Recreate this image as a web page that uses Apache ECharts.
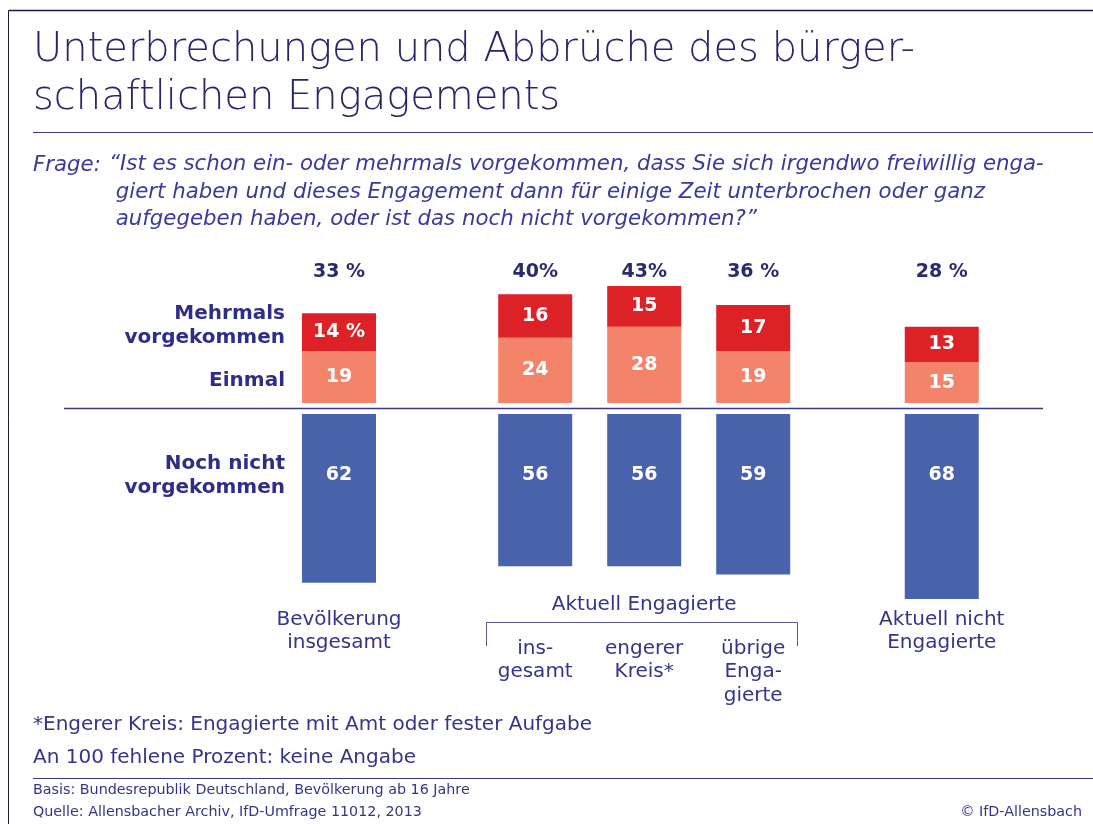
<!DOCTYPE html>
<html><head><meta charset="utf-8">
<script src="https://cdn.jsdelivr.net/npm/echarts@6/dist/echarts.min.js"></script>
<style>html,body{margin:0;padding:0;background:#fff}#c{width:1093px;height:824px}</style>
</head><body><div id="c"></div>
<script>
// ---- data ----
const categories = ['Bevölkerung insgesamt', 'Aktuell Engagierte: insgesamt', 'Aktuell Engagierte: engerer Kreis*', 'Aktuell Engagierte: übrige Engagierte', 'Aktuell nicht Engagierte'];
const catLabels = ['Bevölkerung\ninsgesamt', 'ins-\ngesamt', 'engerer\nKreis*', 'übrige\nEnga-\ngierte', 'Aktuell nicht\nEngagierte'];
const einmal = [19, 24, 28, 19, 15];
const mehrmals = [14, 16, 15, 17, 13];
const nochNicht = [62, 56, 56, 59, 68];
const totals = ['33 %', '40%', '43%', '36 %', '28 %'];
const seriesNames = ['Einmal', 'Mehrmals vorgekommen', 'Noch nicht vorgekommen'];

// ---- layout (slot positions along the x axis, not data) ----
const slots = [0, 1.8, 2.8, 3.8, 5.53];
const FONT = '"DejaVu Sans", Lato, sans-serif';
const NAVY = '#2f2e86';
const TXT = '#34348c';

// value first, slot second (so the value dimension is the stacked one)
const pairs = arr => arr.map((v, i) => [v, slots[i]]);

const chart = echarts.init(document.getElementById('c'), null, {renderer: 'canvas'});
const grids = [
  {left: 230, width: 752.1, top: 267, height: 136},
  {left: 230, width: 752.1, top: 414, height: 190.4}
];
const barLabel = {color: '#fff', fontWeight: 'bold', fontSize: 19, fontFamily: FONT};
const option = {
  animation: false,
  grid: grids,
  xAxis: [
    {type: 'value', gridIndex: 0, min: -1, max: 5.9, show: false},
    {type: 'value', gridIndex: 1, min: -1, max: 5.9, show: false}
  ],
  yAxis: [
    {type: 'value', gridIndex: 0, min: 0, max: 50, show: false},
    {type: 'value', gridIndex: 1, min: 0, max: 70, inverse: true, show: false}
  ],
  series: [
    {name: seriesNames[0], type: 'bar', xAxisIndex: 0, yAxisIndex: 0, stack: 'pos', barWidth: 74,
     dimensions: ['val', 'pos'], encode: {x: 'pos', y: 'val'},
     data: pairs(einmal), itemStyle: {color: '#f38469'},
     label: Object.assign({show: true, position: 'inside', formatter: p => String(p.value[0])}, barLabel)},
    {name: seriesNames[1], type: 'bar', xAxisIndex: 0, yAxisIndex: 0, stack: 'pos', barWidth: 74,
     dimensions: ['val', 'pos'], encode: {x: 'pos', y: 'val'},
     data: pairs(mehrmals), itemStyle: {color: '#dc2227'},
     label: Object.assign({show: true, position: 'inside',
             formatter: p => p.dataIndex === 0 ? p.value[0] + ' %' : String(p.value[0])}, barLabel)},
    {name: seriesNames[2], type: 'bar', xAxisIndex: 1, yAxisIndex: 1, barWidth: 74,
     dimensions: ['val', 'pos'], encode: {x: 'pos', y: 'val'},
     data: pairs(nochNicht), itemStyle: {color: '#4862ac'},
     label: Object.assign({show: true, position: ['50%', 61], align: 'center', verticalAlign: 'middle',
             formatter: p => String(p.value[0])}, barLabel)}
  ]
};
chart.setOption(option);

const px = i => chart.convertToPixel({xAxisIndex: 0, yAxisIndex: 0}, [slots[i], 0])[0];
const T = (text, x, y, o) => ({type: 'text', x, y, silent: true,
  style: Object.assign({text, fill: TXT, fontFamily: FONT, fontSize: 19, textAlign: 'left', textVerticalAlign: 'middle'}, o || {})});
const L = (x1, y1, x2, y2, c, w) => ({type: 'line', silent: true, shape: {x1, y1, x2, y2}, style: {stroke: c || '#3b3a7e', lineWidth: w || 1}});

const g = [];
// frame
g.push(L(8.5, 10.5, 1093, 10.5, '#1c1a44', 1.5));
g.push(L(8.5, 10.5, 8.5, 824, '#1c1a44', 1));
// title
g.push({type: 'text', x: 33, y: 27, silent: true, style: {text: 'Unterbrechungen und Abbrüche des bürger-\nschaftlichen Engagements',
  fill: '#29256a', fontFamily: FONT, fontSize: 40, fontWeight: 200, lineHeight: 48, textVerticalAlign: 'top'}});
g.push(L(33, 132.5, 1093, 132.5, '#3b3a7e', 1));
// question
const qStyle = {fontStyle: 'italic', fontSize: 21.3, fill: '#3a3a9c'};
g.push(T('Frage:', 33, 165, qStyle));
g.push({type: 'text', x: 109, y: 151, silent: true, style: Object.assign({
  text: '\u201CIst es schon ein- oder mehrmals vorgekommen, dass Sie sich irgendwo freiwillig enga-\n giert haben und dieses Engagement dann für einige Zeit unterbrochen oder ganz\n aufgegeben haben, oder ist das noch nicht vorgekommen?\u201D',
  fontFamily: FONT, lineHeight: 27.5, textVerticalAlign: 'top'}, qStyle)});
// totals
totals.forEach((t, i) => g.push(T(t, px(i), 272, {textAlign: 'center', fontWeight: 'bold', fontSize: 19, fill: '#2b2a6e'})));
// row labels
const rl = {textAlign: 'right', fontWeight: 'bold', fontSize: 20, fill: NAVY, lineHeight: 24};
g.push(T('Mehrmals\nvorgekommen', 285, 326, rl));
g.push(T('Einmal', 285, 381, rl));
g.push(T('Noch nicht\nvorgekommen', 285, 476, rl));
// baseline
g.push(L(64, 408.5, 1043, 408.5, '#3b3a7e', 1.5));
// category labels
const cl = {textAlign: 'center', fontSize: 20, lineHeight: 23.5, textVerticalAlign: 'top'};
g.push(T(catLabels[0], px(0), 608, cl));
g.push(T(catLabels[4], px(4), 608, cl));
g.push(T('Aktuell Engagierte', px(2), 605, {textAlign: 'center', fontSize: 20}));
g.push(L(486.5, 622.5, 797.5, 622.5, '#5a5a90', 1));
g.push(L(486.5, 622.5, 486.5, 646, '#5a5a90', 1));
g.push(L(797.5, 622.5, 797.5, 646, '#5a5a90', 1));
for (let i = 1; i <= 3; i++) g.push(T(catLabels[i], px(i), 637, cl));
// footnotes
g.push(T('*Engerer Kreis: Engagierte mit Amt oder fester Aufgabe', 33, 725, {fontSize: 20}));
g.push(T('An 100 fehlene Prozent: keine Angabe', 33, 758, {fontSize: 20}));
g.push(L(33, 778.5, 1093, 778.5, '#3b3a7e', 1));
g.push(T('Basis: Bundesrepublik Deutschland, Bevölkerung ab 16 Jahre', 33, 790, {fontSize: 14.3}));
g.push(T('Quelle: Allensbacher Archiv, IfD-Umfrage 11012, 2013', 33, 812, {fontSize: 14.3}));
g.push(T('\u00A9 IfD-Allensbach', 1082, 812, {fontSize: 14.3, textAlign: 'right'}));

chart.setOption({graphic: g});
</script></body></html>
